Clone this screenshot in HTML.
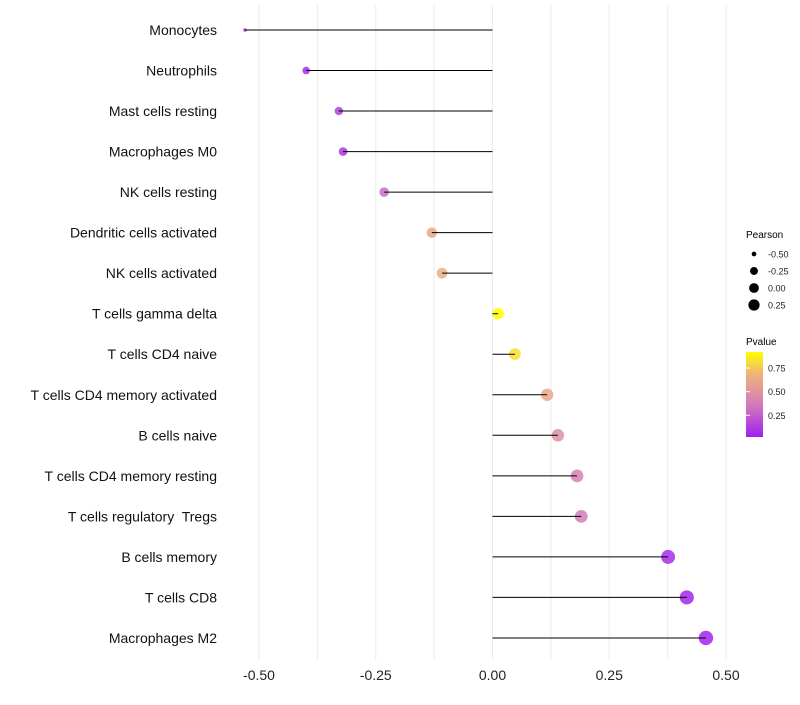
<!DOCTYPE html>
<html><head><meta charset="utf-8"><style>
body{margin:0;background:#fff;}
svg text{font-family:"Liberation Sans",sans-serif;white-space:pre;}
</style></head><body>
<svg id="chart" width="800" height="700">
<defs><linearGradient id="pg" x1="0" y1="1" x2="0" y2="0">
<stop offset="0" stop-color="#a020f0"/><stop offset="0.35" stop-color="#cf74bf"/><stop offset="0.55" stop-color="#e2969a"/><stop offset="0.75" stop-color="#f0b478"/><stop offset="1" stop-color="#ffff00"/></linearGradient></defs>
<g id="grid"></g>
<g id="marks"></g>
<g id="axes"></g>
<g>
<text x="746" y="238" font-size="10" fill="#000">Pearson</text>
<g id="sizeLegend"></g>
<text x="746" y="345" font-size="10" fill="#000">Pvalue</text>
<rect x="746" y="352" width="17" height="85" fill="url(#pg)"/>
<g id="colorLegend"></g>
</g>
</svg>
<script>
const categories=["Monocytes","Neutrophils","Mast cells resting","Macrophages M0","NK cells resting","Dendritic cells activated","NK cells activated","T cells gamma delta","T cells CD4 naive","T cells CD4 memory activated","B cells naive","T cells CD4 memory resting","T cells regulatory  Tregs","B cells memory","T cells CD8","Macrophages M2"];
const pearson=[-0.530,-0.399,-0.329,-0.320,-0.232,-0.130,-0.108,0.012,0.048,0.117,0.140,0.181,0.190,0.376,0.416,0.457];
const pvalues=[0.05,0.06,0.14,0.1,0.3,0.62,0.66,0.93,0.82,0.62,0.48,0.4,0.38,0.06,0.04,0.03];
const xTicks=[-0.5,-0.25,0,0.25,0.5];
const xTickLabels=["-0.50","-0.25","0.00","0.25","0.50"];
const sizeLegendVals=[-0.5,-0.25,0,0.25];
const sizeLegendLabels=["-0.50","-0.25","0.00","0.25"];
const colorLegendVals=[0.25,0.5,0.75];
const colorLegendLabels=["0.25","0.50","0.75"];

const NS="http://www.w3.org/2000/svg";
const x=v=>492.5+v*467;
const y=i=>30+i*40.53;
const pMin=Math.min(...pearson), pMax=Math.max(...pearson);
const r=v=>1.8+5.4*Math.sqrt(Math.max(0,(v-pMin)/(pMax-pMin)));
const stops=[[0,[160,32,240]],[0.35,[207,116,191]],[0.55,[226,150,154]],[0.75,[240,180,120]],[1,[255,255,0]]];
function col(p){const t=Math.max(0,Math.min(1,(p-0.02)/0.9));
for(let k=1;k<stops.length;k++){if(t<=stops[k][0]){const a=stops[k-1],b=stops[k],f=(t-a[0])/(b[0]-a[0]);
return "rgb("+a[1].map((c,j)=>Math.round(c+(b[1][j]-c)*f)).join(",")+")";}}return "rgb(255,255,0)";}
function mk(tag,attrs,parent,txt){const e=document.createElementNS(NS,tag);for(const k in attrs)e.setAttribute(k,attrs[k]);if(txt!==undefined)e.textContent=txt;document.getElementById(parent).appendChild(e);return e;}
const cy=p=>437-(p-0.02)/0.9*85;

for(let v=-0.5;v<=0.51;v+=0.125){const g=mk("line",{x1:x(v),x2:x(v),y1:5,y2:660,stroke:"#ebebeb","stroke-width":1},"grid");

}
categories.forEach((c,i)=>{
const pt=mk("circle",{cx:x(pearson[i]),cy:y(i),r:r(pearson[i]),fill:col(pvalues[i]),"fill-opacity":0.85},"marks");


const ln=mk("line",{x1:x(0),x2:x(pearson[i]),y1:y(i),y2:y(i),stroke:"#000","stroke-width":1},"marks");


const t=mk("text",{x:217,y:y(i)+5,"text-anchor":"end","font-size":14,fill:"#111"},"axes",c);


});
xTicks.forEach((v,i)=>{const t=mk("text",{x:x(v),y:680,"text-anchor":"middle","font-size":14,fill:"#222"},"axes",xTickLabels[i]);

});
sizeLegendVals.forEach((v,i)=>{const yy=254+i*17;
const c=mk("circle",{cx:754,cy:yy,r:r(v)*0.85,fill:"#000"},"sizeLegend");


const t=mk("text",{x:768,y:yy+3.5,"font-size":9,fill:"#222"},"sizeLegend",sizeLegendLabels[i]);

});
colorLegendVals.forEach((v,i)=>{const yy=cy(v);
const l=mk("line",{x1:746,x2:750,y1:yy,y2:yy,stroke:"#fff","stroke-width":1},"colorLegend");


const t=mk("text",{x:768,y:yy+3.5,"font-size":9,fill:"#222"},"colorLegend",colorLegendLabels[i]);

});
</script>
</body></html>
